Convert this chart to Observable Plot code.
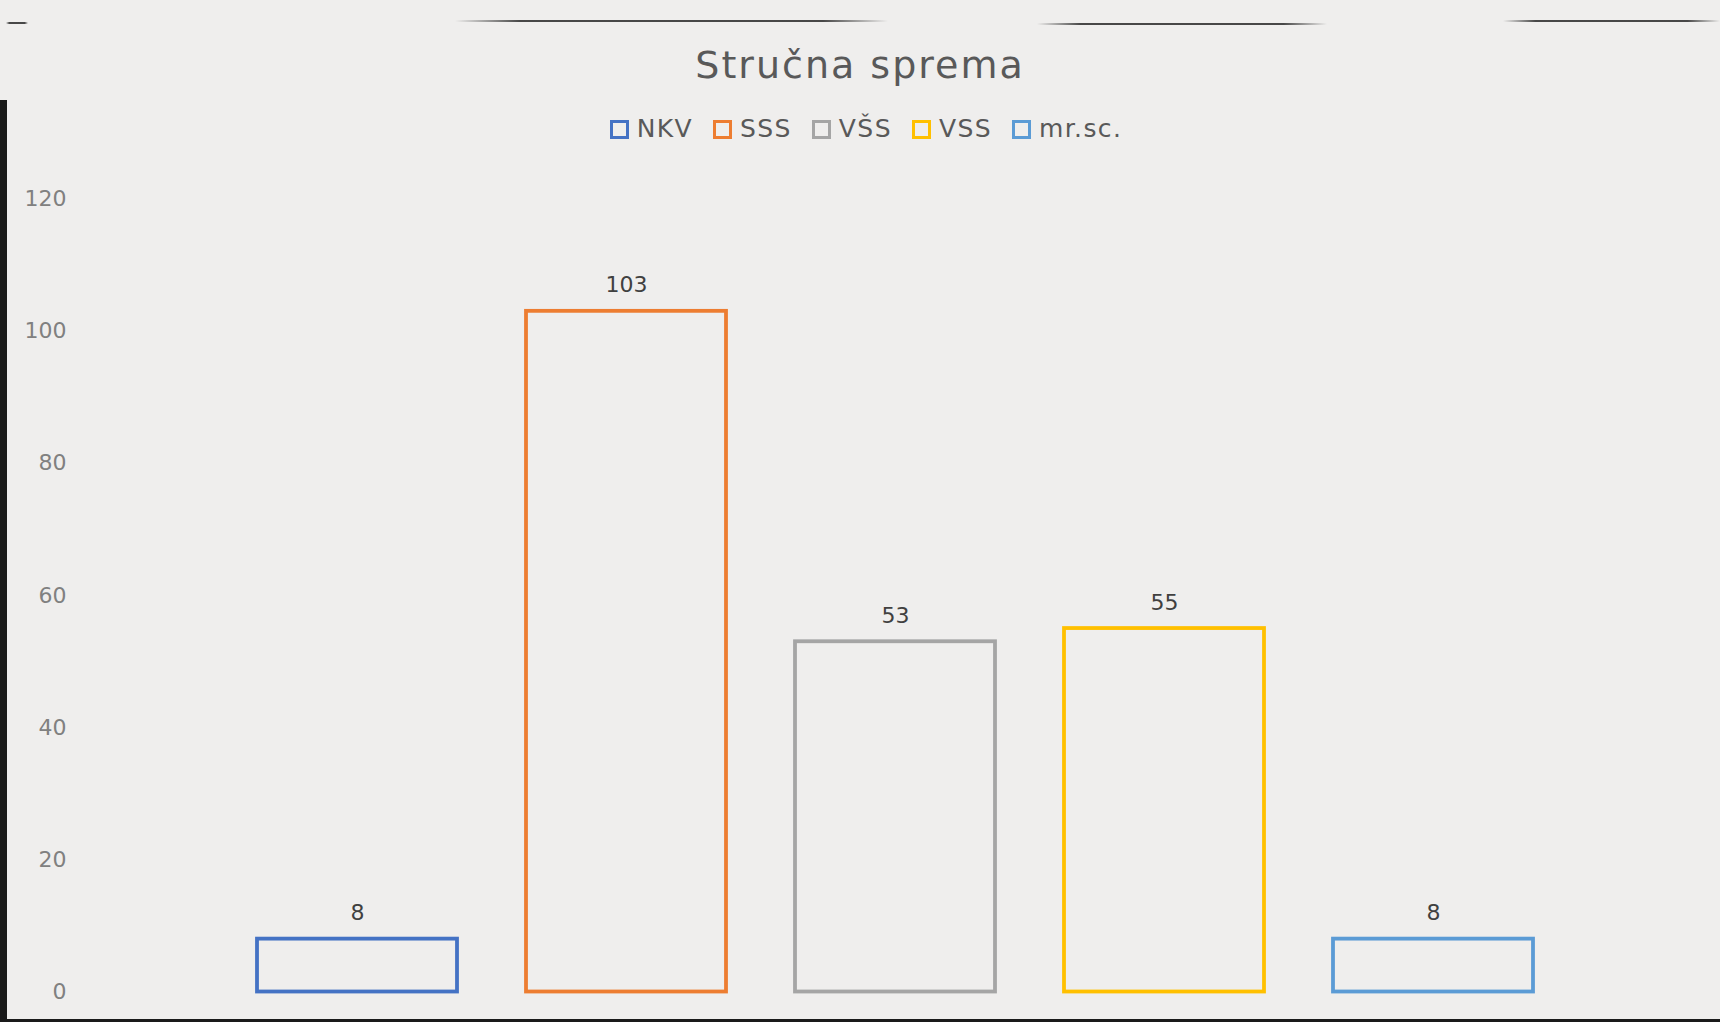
<!DOCTYPE html>
<html>
<head>
<meta charset="utf-8">
<script src="https://cdn.jsdelivr.net/npm/d3@7"></script>
<script src="https://cdn.jsdelivr.net/npm/@observablehq/plot@0.6"></script>
<style>
  html, body { margin: 0; padding: 0; background: #efeeed; width: 1720px; height: 1022px; overflow: hidden; font-family: "DejaVu Sans", sans-serif; }
  #page { position: relative; width: 1720px; height: 1022px; }
  #header { height: 160px; position: relative; }
  #title { position: absolute; top: 42px; left: 0; width: 1720px; text-align: center; font-size: 38px; color: #595959; letter-spacing: 2px; line-height: 46px; }
  #legend { position: absolute; top: 113px; left: 0; width: 1732px; display: flex; justify-content: center; gap: 20px; font-size: 25px; color: #595959; line-height: 32px; }
  .item { display: flex; align-items: center; gap: 8px; letter-spacing: 1.4px; }
  .sw { width: 13px; height: 13px; border-style: solid; border-width: 3.5px; box-sizing: content-box; }
  #edgeL { position: absolute; left: 0; top: 100px; width: 7px; height: 922px; background: #1a1a1a; }
  #edgeB { position: absolute; left: 0; bottom: 0; width: 1720px; height: 3px; background: #1a1a1a; }
  .edgeT { position: absolute; height: 2px; background: linear-gradient(90deg, rgba(30,30,30,0), rgba(30,30,30,0.8) 15%, rgba(30,30,30,0.8) 85%, rgba(30,30,30,0)); }
  svg { display: block; }
</style>
</head>
<body>
<div id="page">
  <div id="header">
    <div id="title">Stručna sprema</div>
    <div id="legend"></div>
  </div>
  <div id="chart"></div>
  <div id="edgeL"></div>
  <div id="edgeB"></div>
  <div class="edgeT" style="left:455px; top:20px; width:433px;"></div>
  <div class="edgeT" style="left:1037px; top:23px; width:290px;"></div>
  <div class="edgeT" style="left:1503px; top:20px; width:217px;"></div>
  <div class="edgeT" style="left:6px; top:22px; width:22px;"></div>
</div>
<script>
const categories = ["NKV", "SSS", "VŠS", "VSS", "mr.sc."];
const values = [8, 103, 53, 55, 8];
const colors = ["#4472C4", "#ED7D31", "#A5A5A5", "#FFC000", "#5B9BD5"];
const yTicks = [0, 20, 40, 60, 80, 100, 120];

const data = categories.map((c, i) => ({category: c, value: values[i]}));

// legend
const legend = document.getElementById("legend");
categories.forEach((c, i) => {
  const item = document.createElement("div");
  item.className = "item";
  const sw = document.createElement("span");
  sw.className = "sw";
  sw.style.borderColor = colors[i];
  const lbl = document.createElement("span");
  lbl.textContent = c;
  item.appendChild(sw);
  item.appendChild(lbl);
  legend.appendChild(item);
});

const chart = Plot.plot({
  width: 1720,
  height: 862,
  marginLeft: 223,
  marginRight: 152,
  marginTop: 38.5,
  marginBottom: 30.5,
  style: { background: "transparent", fontFamily: "DejaVu Sans, sans-serif", overflow: "visible" },
  x: { domain: categories, paddingInner: 0.255, paddingOuter: 0.1275, axis: null },
  y: { domain: [0, 120], ticks: yTicks, axis: null },
  color: { domain: categories, range: colors },
  marks: [
    Plot.axisY({ ticks: yTicks, tickSize: 0, tickPadding: 157, fontSize: 22, fill: "#808080", label: null, textAnchor: "end" }),
    Plot.barY(data, { x: "category", y: "value", fill: "none", stroke: "category", strokeWidth: 3.8 }),
    Plot.text(data, { x: "category", y: "value", text: d => String(d.value), dy: -26, fontSize: 22, fill: "#404040" })
  ]
});
document.getElementById("chart").appendChild(chart);
</script>
</body>
</html>
